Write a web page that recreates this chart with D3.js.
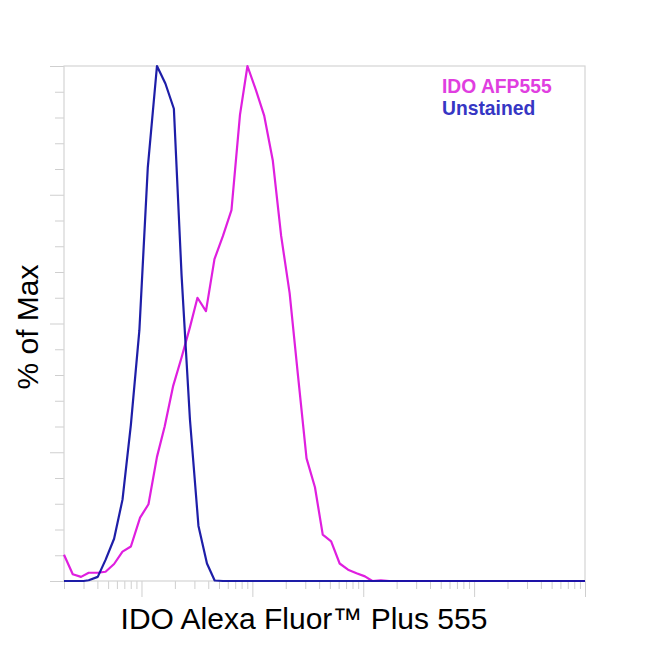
<!DOCTYPE html>
<html>
<head>
<meta charset="utf-8">
<script src="https://cdn.jsdelivr.net/npm/d3@7"></script>
<style>
  html, body { margin: 0; padding: 0; background: #fff; }
  svg { display: block; font-family: "Liberation Sans", Arial, sans-serif; }
</style>
</head>
<body>
<svg id="chart" width="650" height="650"></svg>
<script>
// ---- data ----
const seriesNames = ["IDO AFP555", "Unstained"];
const xLabel = "IDO Alexa Fluor\u2122 Plus 555";
const yLabel = "% of Max";

// Unstained (blue): fluorescence intensity and % of max
const unstainedX = [20, 30, 33.4, 40.3, 47.4, 56.6, 67.4, 80.2, 95.7, 113.9, 137.9, 164.2, 195.9, 229.8, 273.6, 326.4, 389.5, 457, 543, 1000000];
const unstainedY = [0, 0, 0.15, 0.8, 4.1, 8.2, 15.8, 30.3, 48.7, 80.2, 100, 96.6, 91.7, 59.4, 31.3, 10.7, 3.4, 0.1, 0, 0];

// IDO AFP555 (magenta)
const stainedX = [20, 24, 28.5, 33.4, 40.3, 47.4, 56.6, 67.4, 80.2, 97.1, 115.6, 137.9, 161.8, 193.1, 229.8, 273.6, 319.7, 381.5, 455.1, 543, 647.7, 773, 902.8, 1077, 1280, 1527, 1818, 2168, 2582, 3080, 3668, 4312, 5134, 6126, 7292, 8698, 10356, 12074, 14406, 17158, 1000000];
const stainedY = [5.1, 1.3, 0.8, 1.6, 1.6, 1.8, 3.3, 5.7, 6.7, 12.3, 14.9, 24.1, 30.0, 37.9, 43.4, 49.3, 55.0, 52.4, 62.5, 67.0, 72.0, 90.5, 100, 95.3, 90.3, 81.7, 67.0, 55.9, 39.8, 23.8, 18.2, 9.0, 7.7, 3.4, 2.2, 1.5, 0.9, 0, 0.15, 0, 0];

const xDomain = [20, 1000000];
const yDomain = [0, 100];
const yMinorTicks = [0, 5, 10, 15, 20, 25, 30, 35, 40, 45, 50, 55, 60, 65, 70, 75, 80, 85, 90, 95, 100];
const yMajorTicks = [0, 25, 50, 75, 100];

// ---- layout ----
const L = 64, R = 585, T = 66, B = 581;
const svg = d3.select("#chart");
const frameColor = "#d4d4d4";
const tickColor = "#cfcfcf";
const magenta = "#df1fdf";
const blue = "#1212a3";

const x = d3.scaleLog().domain(xDomain).range([L, R]);
const y = d3.scaleLinear().domain(yDomain).range([B, T]);

// x ticks (log)
const xTickVals = x.ticks(60).filter(v => v >= xDomain[0] && v <= xDomain[1]);
const isDecade = v => Math.abs(Math.log10(v) - Math.round(Math.log10(v))) < 1e-9;
const xAxisMajor = d3.axisBottom(x).tickValues(xTickVals.filter(isDecade)).tickSize(16).tickFormat("");
const xAxisMinor = d3.axisBottom(x).tickValues(xTickVals.filter(v => !isDecade(v))).tickSize(8).tickFormat("");
[xAxisMinor, xAxisMajor].forEach(ax => {
  const g = svg.append("g").attr("transform", `translate(0,${B})`).call(ax);
  g.select(".domain").remove();
  g.selectAll(".tick line").attr("stroke", tickColor).attr("stroke-width", 1);
});

// y ticks
const yAxisMinor = d3.axisLeft(y).tickValues(yMinorTicks.filter(v => !yMajorTicks.includes(v))).tickSize(9).tickFormat("");
const yAxisMajor = d3.axisLeft(y).tickValues(yMajorTicks).tickSize(14).tickFormat("");
[yAxisMinor, yAxisMajor].forEach(ax => {
  const g = svg.append("g").attr("transform", `translate(${L},0)`).call(ax);
  g.select(".domain").remove();
  g.selectAll(".tick line").attr("stroke", tickColor).attr("stroke-width", 1);
});

// frame
svg.append("rect").attr("x", L).attr("y", T).attr("width", R - L).attr("height", B - T)
  .attr("fill", "none").attr("stroke", frameColor).attr("stroke-width", 1.2);

// lines
const line = d3.line().x(d => x(d[0])).y(d => y(d[1]));
const stained = stainedX.map((v, i) => [v, stainedY[i]]);
const unstained = unstainedX.map((v, i) => [v, unstainedY[i]]);

svg.append("path").datum(stained).attr("d", line)
  .attr("fill", "none").attr("stroke", magenta).attr("stroke-width", 2.2).attr("stroke-linejoin", "round");
svg.append("path").datum(unstained).attr("d", line)
  .attr("fill", "none").attr("stroke", blue).attr("stroke-width", 2.2).attr("stroke-linejoin", "round")
  .attr("stroke-opacity", 0.95);

// legend
const legendColors = ["#e03ee0", "#3636c4"];
seriesNames.forEach((name, i) => {
  svg.append("text").attr("x", 442).attr("y", 93 + i * 22)
    .attr("fill", legendColors[i]).attr("font-size", 19.3).attr("font-weight", "bold")
    .text(name);
});

// axis labels
svg.append("text").attr("x", 304).attr("y", 629).attr("text-anchor", "middle")
  .attr("font-size", 30).attr("fill", "#000").text(xLabel);
svg.append("text").attr("transform", "translate(38,327) rotate(-90)").attr("text-anchor", "middle")
  .attr("font-size", 30).attr("fill", "#000").text(yLabel);
</script>
</body>
</html>
